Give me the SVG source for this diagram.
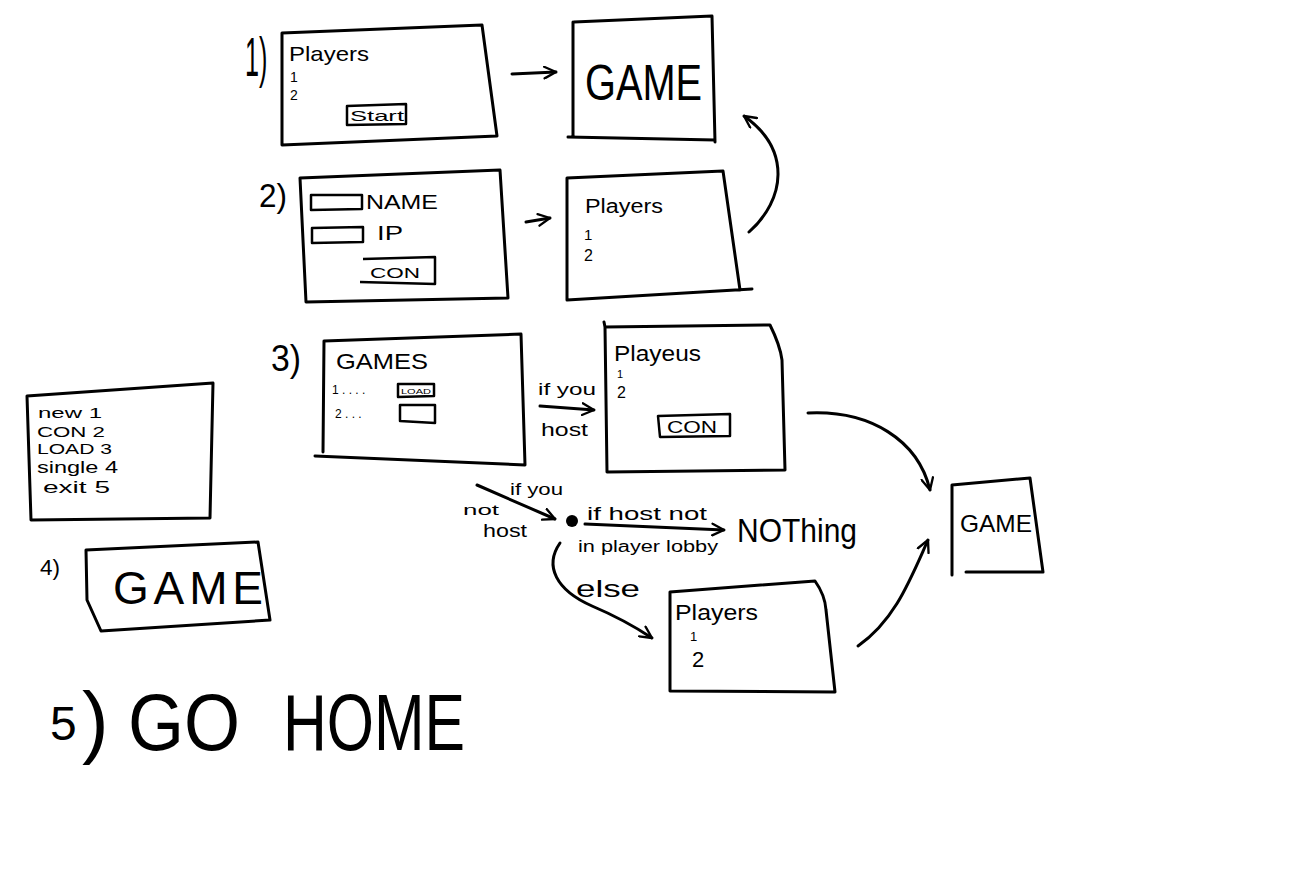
<svg xmlns="http://www.w3.org/2000/svg" width="1298" height="869" viewBox="0 0 1298 869">
<defs>
<style>
.s{fill:none;stroke:#000;stroke-width:3;stroke-linecap:round;stroke-linejoin:round}
.b{fill:none;stroke:#000;stroke-width:2.5;stroke-linejoin:round}
.t{font-family:"Liberation Sans",Arial,sans-serif;fill:#000}
.c{fill:none;stroke:#000;stroke-width:3;stroke-linecap:round;marker-end:url(#ah)}
</style>
<marker id="ah" viewBox="0 0 12 12" refX="11" refY="6" markerWidth="14" markerHeight="14" markerUnits="userSpaceOnUse" orient="auto">
<path d="M1,1 L11,6 L1,11" fill="none" stroke="#000" stroke-width="2" stroke-linecap="round" stroke-linejoin="round"/>
</marker>
</defs>
<rect width="1298" height="869" fill="#fff"/>

<g id="label-1"><text class="t" transform="translate(245,76) scale(0.45,1)" font-size="56">1)</text></g>
<g id="screen1-players">
<path class="s" d="M282,33 L482,25 L497,136 L282,145 Z"/>
<text class="t" x="289" y="61" font-size="21" textLength="80" lengthAdjust="spacingAndGlyphs">Players</text>
<text class="t" x="290" y="82" font-size="14">1</text>
<text class="t" x="290" y="100" font-size="14">2</text>
<path class="b" d="M347,106 L406,104 L406,124 L347,125 Z"/>
<text class="t" x="350" y="121" font-size="15" textLength="54" lengthAdjust="spacingAndGlyphs">Start</text>
</g>
<g id="game1">
<path class="s" d="M574,22 L712,16 L715,142 M573,22 L573,136 M568,137 L715,140"/>
<text class="t" x="585" y="100" font-size="50" textLength="117" lengthAdjust="spacingAndGlyphs">GAME</text>
</g>

<g id="label-2"><text class="t" x="259" y="207" font-size="34" textLength="28" lengthAdjust="spacingAndGlyphs">2)</text></g>
<g id="screen2-connect">
<path class="s" d="M300,178 L500,170 L508,298 L306,302 Z"/>
<path class="b" d="M311,195 L362,195 L362,209 L311,210 Z"/>
<text class="t" x="366" y="209" font-size="20" textLength="72" lengthAdjust="spacingAndGlyphs">NAME</text>
<path class="b" d="M312,228 L363,227 L363,242 L312,243 Z"/>
<text class="t" x="377" y="240" font-size="20" textLength="26" lengthAdjust="spacingAndGlyphs">IP</text>
<path class="b" d="M363,259 L435,257 L435,284 L360,282"/>
<text class="t" x="370" y="278" font-size="15" textLength="50" lengthAdjust="spacingAndGlyphs">CON</text>
</g>
<g id="screen2-players">
<path class="s" d="M567,178 L723,171 L740,290 M567,178 L567,300 L752,289"/>
<text class="t" x="585" y="213" font-size="20" textLength="78" lengthAdjust="spacingAndGlyphs">Players</text>
<text class="t" x="584" y="240" font-size="15">1</text>
<text class="t" x="584" y="261" font-size="16">2</text>
</g>

<g id="label-3"><text class="t" x="271" y="371" font-size="36" textLength="30" lengthAdjust="spacingAndGlyphs">3)</text></g>
<g id="screen3-games">
<path class="s" d="M324,341 L521,334 L525,465 M324,341 L323,452 M315,456 L525,465"/>
<text class="t" x="336" y="369" font-size="22" textLength="92" lengthAdjust="spacingAndGlyphs">GAMES</text>
<text class="t" x="332" y="394" font-size="12">1 . . . .</text>
<path class="b" d="M398,384 L434,384 L434,396 L398,397 Z"/>
<text class="t" x="401" y="394" font-size="8" textLength="30" lengthAdjust="spacingAndGlyphs">LOAD</text>
<text class="t" x="335" y="418" font-size="12">2 . . .</text>
<path class="b" d="M400,405 L435,405 L435,423 L400,421 Z"/>
</g>
<g id="screen3-players">
<path class="s" d="M605,327 L770,325 Q780,345 782,360 L785,470 L607,472 Z M605,327 L604,322"/>
<text class="t" x="614" y="361" font-size="22" textLength="87" lengthAdjust="spacingAndGlyphs">Playeus</text>
<text class="t" x="617" y="378" font-size="11">1</text>
<text class="t" x="617" y="398" font-size="16">2</text>
<path class="b" d="M658,416 L730,414 L730,436 L660,437 Z"/>
<text class="t" x="667" y="433" font-size="16" textLength="50" lengthAdjust="spacingAndGlyphs">CON</text>
</g>

<g id="decision-dot"><circle cx="572" cy="521" r="6" fill="#000"/></g>
<g id="nothing"><text class="t" x="737" y="542" font-size="34" textLength="120" lengthAdjust="spacingAndGlyphs">NOThing</text></g>
<g id="screen3-players-else">
<path class="s" d="M670,592 L815,581 Q825,595 826,610 L835,692 L670,691 Z"/>
<text class="t" x="675" y="620" font-size="22" textLength="83" lengthAdjust="spacingAndGlyphs">Players</text>
<text class="t" x="690" y="641" font-size="13">1</text>
<text class="t" x="692" y="667" font-size="22">2</text>
</g>
<g id="game3">
<path class="s" d="M952,485 L1030,478 L1043,572 M952,485 L952,575 M966,572 L1043,572"/>
<text class="t" x="960" y="532" font-size="24" textLength="72" lengthAdjust="spacingAndGlyphs">GAME</text>
</g>

<g id="main-menu">
<path class="s" d="M27,396 L213,383 L210,518 L31,520 Z"/>
<text class="t" x="38" y="418" font-size="15" textLength="64" lengthAdjust="spacingAndGlyphs">new 1</text>
<text class="t" x="37" y="437" font-size="14" textLength="68" lengthAdjust="spacingAndGlyphs">CON  2</text>
<text class="t" x="37" y="454" font-size="14" textLength="75" lengthAdjust="spacingAndGlyphs">LOAD 3</text>
<text class="t" x="37" y="473" font-size="16" textLength="81" lengthAdjust="spacingAndGlyphs">single 4</text>
<text class="t" x="43" y="493" font-size="16" textLength="67" lengthAdjust="spacingAndGlyphs">exit  5</text>
</g>

<g id="label-4"><text class="t" x="40" y="575" font-size="22" textLength="20" lengthAdjust="spacingAndGlyphs">4)</text></g>
<g id="game4">
<path class="s" d="M86,550 L258,542 L270,620 L101,631 L87,600 Z"/>
<text class="t" x="113" y="604" font-size="46" textLength="150" lengthAdjust="spacing">GAME</text>
</g>

<g id="label-5"><text class="t" y="750" font-size="80"><tspan x="50" y="740" font-size="48">5</tspan><tspan x="82" y="748">)</tspan><tspan x="128" y="750" textLength="112" lengthAdjust="spacingAndGlyphs">GO</tspan><tspan x="283" y="750" textLength="182" lengthAdjust="spacingAndGlyphs">HOME</tspan></text></g>

<g id="edge-labels">
<text class="t" x="538" y="395" font-size="17" textLength="58" lengthAdjust="spacingAndGlyphs">if you</text>
<text class="t" x="541" y="436" font-size="18" textLength="47" lengthAdjust="spacingAndGlyphs">host</text>
<text class="t" x="510" y="495" font-size="17" textLength="53" lengthAdjust="spacingAndGlyphs">if you</text>
<text class="t" x="463" y="515" font-size="14" textLength="36" lengthAdjust="spacingAndGlyphs">not</text>
<text class="t" x="483" y="537" font-size="18" textLength="44" lengthAdjust="spacingAndGlyphs">host</text>
<text class="t" x="587" y="520" font-size="19" textLength="120" lengthAdjust="spacingAndGlyphs">if host not</text>
<text class="t" x="578" y="552" font-size="16" textLength="140" lengthAdjust="spacingAndGlyphs">in player lobby</text>
<text class="t" x="576" y="597" font-size="24" textLength="64" lengthAdjust="spacingAndGlyphs">else</text>
</g>

<g id="connectors">
<path class="c" d="M512,74 L556,72"/>
<path class="c" d="M526,222 L550,218"/>
<path class="c" d="M749,232 C785,200 792,150 744,116"/>
<path class="c" d="M540,406 L594,410"/>
<path class="c" d="M477,485 L555,519"/>
<path class="c" d="M585,524 L724,530"/>
<path class="c" d="M560,543 C544,566 556,590 592,606 Q625,620 652,638"/>
<path class="c" d="M808,413 C870,410 918,440 930,490"/>
<path class="c" d="M858,646 C895,620 910,580 928,540"/>
</g>
</svg>
